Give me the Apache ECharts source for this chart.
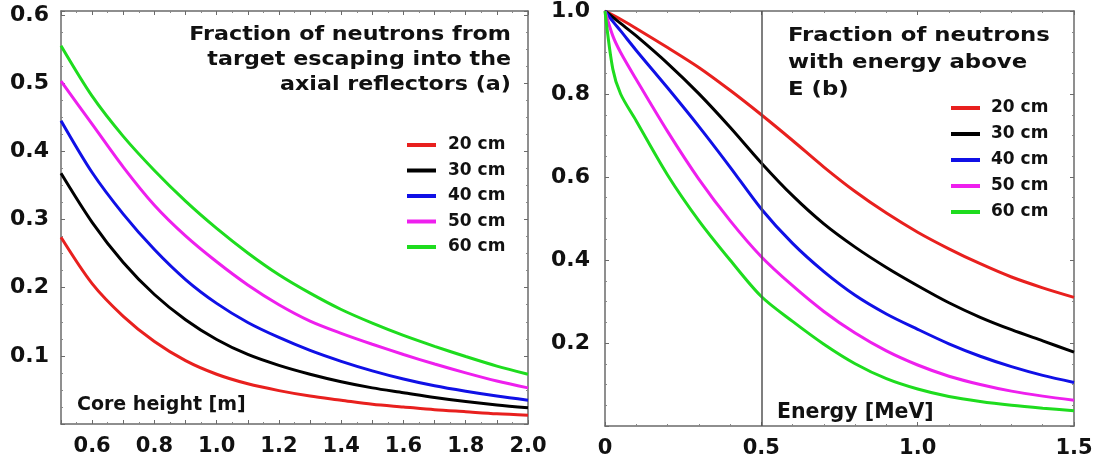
<!DOCTYPE html>
<html>
<head>
<meta charset="utf-8">
<script src="https://cdn.jsdelivr.net/npm/echarts@6/dist/echarts.min.js"></script>
<style>
html, body { margin: 0; padding: 0; background: #fff; }
#chart { width: 1096px; height: 461px; }
</style>
</head>
<body>
<div id="chart"></div>
<script>
let chart = echarts.init(document.getElementById('chart'));

// panel (a): fraction escaping into the axial reflectors vs core height
const heightM = [0.5, 0.6, 0.7, 0.8, 0.9, 1.0, 1.1, 1.2, 1.3, 1.4, 1.5, 1.6, 1.7, 1.8, 1.9, 2.0];
const escape20 = [0.274, 0.206, 0.158, 0.121, 0.093, 0.073, 0.059, 0.049, 0.041, 0.035, 0.029, 0.025, 0.021, 0.018, 0.015, 0.013];
const escape30 = [0.368, 0.296, 0.237, 0.190, 0.153, 0.124, 0.102, 0.086, 0.073, 0.062, 0.053, 0.046, 0.039, 0.033, 0.028, 0.024];
const escape40 = [0.445, 0.369, 0.308, 0.256, 0.212, 0.177, 0.149, 0.127, 0.108, 0.092, 0.078, 0.066, 0.056, 0.048, 0.041, 0.035];
const escape50 = [0.503, 0.440, 0.377, 0.321, 0.276, 0.238, 0.204, 0.175, 0.151, 0.133, 0.117, 0.102, 0.088, 0.075, 0.063, 0.053];
const escape60 = [0.555, 0.481, 0.422, 0.372, 0.327, 0.287, 0.251, 0.219, 0.192, 0.168, 0.148, 0.130, 0.114, 0.099, 0.085, 0.073];

// panel (b): fraction with energy above E
const energyMeV = [0, 0.025, 0.05, 0.1, 0.2, 0.3, 0.4, 0.5, 0.6, 0.7, 0.8, 0.9, 1.0, 1.1, 1.2, 1.3, 1.4, 1.5];
const above20 = [1.0, 0.99, 0.98, 0.958, 0.912, 0.864, 0.809, 0.75, 0.688, 0.624, 0.565, 0.513, 0.467, 0.427, 0.391, 0.359, 0.333, 0.31];
const above30 = [1.0, 0.985, 0.97, 0.94, 0.874, 0.801, 0.72, 0.634, 0.555, 0.487, 0.431, 0.382, 0.338, 0.297, 0.262, 0.232, 0.205, 0.178];
const above40 = [1.0, 0.975, 0.952, 0.905, 0.815, 0.722, 0.624, 0.523, 0.440, 0.372, 0.315, 0.27, 0.233, 0.198, 0.168, 0.143, 0.122, 0.105];
const above50 = [1.0, 0.94, 0.90, 0.835, 0.71, 0.595, 0.495, 0.408, 0.338, 0.276, 0.224, 0.181, 0.147, 0.120, 0.100, 0.084, 0.072, 0.062];
const above60 = [1.0, 0.86, 0.80, 0.735, 0.605, 0.495, 0.40, 0.312, 0.252, 0.197, 0.150, 0.114, 0.089, 0.071, 0.059, 0.050, 0.043, 0.037];

const names = ['20 cm', '30 cm', '40 cm', '50 cm', '60 cm'];
const colors = ['#e8201e', '#000000', '#1010e6', '#ee1fee', '#1edc1e'];
const font = '"DejaVu Sans", "Liberation Sans", sans-serif';

function pairs(xs, ys) {
    return xs.map((x, i) => [x, ys[i]]);
}

function frameAxis(grid, pos, min, max, interval, minorSplit, labelFmt, margin, size) {
    return {
        type: 'value',
        gridIndex: grid,
        position: pos,
        min: min,
        max: max,
        interval: interval,
        axisLine: { show: true, onZero: false, lineStyle: { color: '#6a6a6a', width: 1.5 } },
        axisTick: { show: true, inside: true, length: 4, lineStyle: { color: '#6a6a6a' } },
        minorTick: { show: true, splitNumber: minorSplit, length: 2, lineStyle: { color: '#888' } },
        splitLine: { show: false },
        axisLabel: labelFmt ? {
            show: true,
            formatter: labelFmt,
            margin: margin,
            color: '#111',
            fontFamily: font,
            fontWeight: 'bold',
            fontSize: size,
            showMinLabel: true,
            showMaxLabel: true
        } : { show: false }
    };
}

function tenths(v) {
    return Math.abs(v * 10 - Math.round(v * 10)) < 1e-6;
}

let series = [];
let leftSets = [escape20, escape30, escape40, escape50, escape60];
let rightSets = [above20, above30, above40, above50, above60];
for (let i = 0; i < names.length; i++) {
    series.push({
        name: names[i],
        type: 'line',
        xAxisIndex: 0,
        yAxisIndex: 0,
        smooth: 0.3,
        showSymbol: false,
        lineStyle: { color: colors[i], width: 3 },
        itemStyle: { color: colors[i] },
        data: pairs(heightM, leftSets[i])
    });
}
for (let i = 0; i < names.length; i++) {
    let s = {
        name: names[i],
        type: 'line',
        xAxisIndex: 2,
        yAxisIndex: 2,
        smooth: 0.3,
        showSymbol: false,
        lineStyle: { color: colors[i], width: 3 },
        itemStyle: { color: colors[i] },
        data: pairs(energyMeV, rightSets[i])
    };
    if (i === 0) {
        s.markLine = {
            silent: true,
            symbol: 'none',
            label: { show: false },
            lineStyle: { color: '#555', width: 1.5, type: 'solid' },
            data: [{ xAxis: 0.5 }]
        };
    }
    series.push(s);
}

function legendAt(left, top, gap, pad) {
    return {
        orient: 'vertical',
        left: left,
        top: top,
        padding: 0,
        icon: 'rect',
        itemWidth: 29,
        itemHeight: 4,
        itemGap: gap,
        selectedMode: false,
        data: names,
        textStyle: {
            color: '#111',
            fontFamily: font,
            fontWeight: 'bold',
            fontSize: 17,
            lineHeight: 17,
            padding: [0, 0, 0, pad]
        }
    };
}

function note(text, x, y, align, size, lineHeight, scaleX) {
    return {
        type: 'text',
        x: x,
        y: y,
        scaleX: scaleX || 1,
        style: {
            text: text,
            fill: '#111',
            font: 'bold ' + size + 'px ' + font,
            lineHeight: lineHeight,
            align: align,
            verticalAlign: 'top'
        }
    };
}

let options = {
    backgroundColor: '#fff',
    animation: false,
    grid: [
        { left: 61, top: 11, width: 467, height: 413, show: false },
        { left: 605, top: 11, width: 469, height: 415, show: false }
    ],
    xAxis: [
        frameAxis(0, 'bottom', 0.5, 2.0, 0.1, 2, v => (Math.round(v * 10) % 2 === 0 ? v.toFixed(1) : ''), 12, 21),
        frameAxis(0, 'top', 0.5, 2.0, 0.1, 2, null),
        frameAxis(1, 'bottom', 0, 1.5, 0.5, 5, v => (v === 0 ? '0' : v.toFixed(1)), 12, 21),
        frameAxis(1, 'top', 0, 1.5, 0.5, 5, null)
    ],
    yAxis: [
        frameAxis(0, 'left', 0, 0.606, 0.1, 4, v => (v > 0.05 && tenths(v) ? v.toFixed(1) : ''), 12, 22),
        frameAxis(0, 'right', 0, 0.606, 0.1, 4, null),
        frameAxis(1, 'left', 0, 1.0, 0.2, 4, v => (v === 0 ? '' : v.toFixed(1)), 15, 22),
        frameAxis(1, 'right', 0, 1.0, 0.2, 4, null)
    ],
    legend: [
        legendAt(407, 136.5, 8.5, 7),
        legendAt(951, 99.5, 9, 6)
    ],
    graphic: [
        note('Fraction of neutrons from\ntarget escaping into the\naxial reflectors (a)', 511, 22, 'right', 20, 25, 1.11),
        note('Fraction of neutrons\nwith energy above\nE (b)', 788, 22, 'left', 20, 27, 1.14),
        note('Core height [m]', 77, 395.5, 'left', 19, 19),
        note('Energy [MeV]', 777, 402.5, 'left', 20.5, 20.5)
    ],
    series: series
};
chart.setOption(options);
</script>
</body>
</html>
